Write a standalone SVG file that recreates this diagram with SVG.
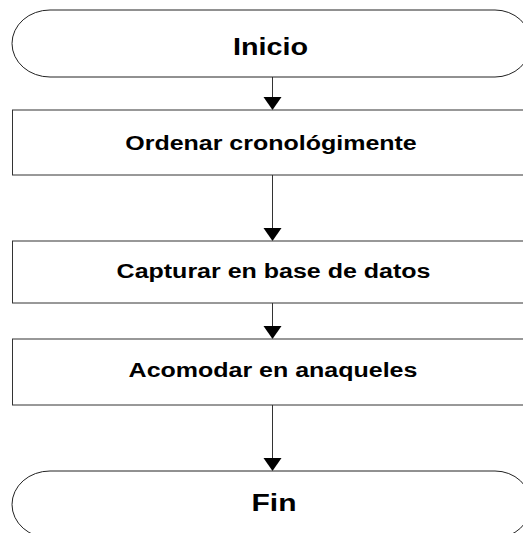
<svg xmlns="http://www.w3.org/2000/svg" width="523" height="533" viewBox="0 0 523 533">
<style>
.shape{fill:#ffffff;stroke:#333333;stroke-width:1}
.term{fill:#ffffff;stroke:#222222;stroke-width:1}
.lbl{font-family:"Liberation Sans",Arial,sans-serif;font-weight:bold;fill:#000000;text-anchor:middle}
.conn{stroke:#333333;stroke-width:1;fill:none}
.head{fill:#000000;stroke:none}
</style>
<rect width="523" height="533" fill="#ffffff"/>
<g id="connectors">
<line class="conn" x1="272.5" y1="77" x2="272.5" y2="98"/>
<polygon class="head" points="263.5,97 281.5,97 272.5,110"/>
<line class="conn" x1="272.5" y1="175" x2="272.5" y2="229"/>
<polygon class="head" points="263.5,228 281.5,228 272.5,241"/>
<line class="conn" x1="272.5" y1="303" x2="272.5" y2="327"/>
<polygon class="head" points="263.5,326 281.5,326 272.5,339"/>
<line class="conn" x1="272.5" y1="405" x2="272.5" y2="459"/>
<polygon class="head" points="263.5,458 281.5,458 272.5,471"/>
</g>
<g id="inicio">
<path class="term" d="M50,10 H495 A36,33.5 0 0 1 495,77 H50 A38,33.5 0 0 1 50,10 Z"/>
<text class="lbl" transform="translate(270.5,54.5) scale(1.25,1)" font-size="23">Inicio</text>
</g>
<g id="ordenar">
<rect class="shape" x="12.5" y="110" width="522" height="65"/>
<text class="lbl" transform="translate(271,150) scale(1.25,1)" font-size="20">Ordenar cronológimente</text>
</g>
<g id="capturar">
<rect class="shape" x="12.5" y="241" width="522" height="62"/>
<text class="lbl" transform="translate(273.5,278) scale(1.25,1)" font-size="20">Capturar en base de datos</text>
</g>
<g id="acomodar">
<rect class="shape" x="12.5" y="339" width="522" height="66"/>
<text class="lbl" transform="translate(273,377) scale(1.25,1)" font-size="20">Acomodar en anaqueles</text>
</g>
<g id="fin">
<path class="term" d="M50,471 H495 A36,33.5 0 0 1 495,538 H50 A38,33.5 0 0 1 50,471 Z"/>
<text class="lbl" transform="translate(274,510.5) scale(1.25,1)" font-size="24">Fin</text>
</g>
</svg>
